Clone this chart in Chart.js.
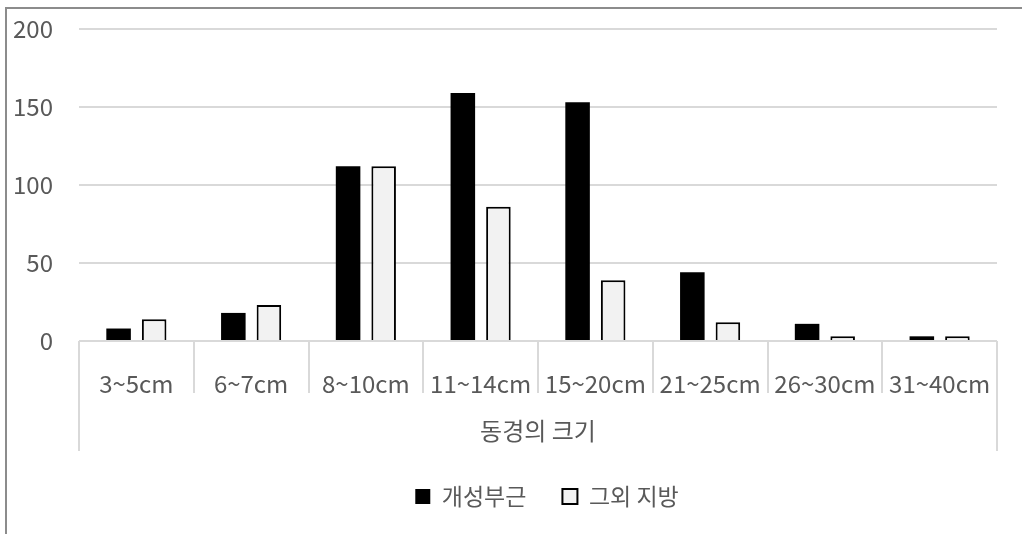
<!DOCTYPE html>
<html>
<head>
<meta charset="utf-8">
<script src="https://cdn.jsdelivr.net/npm/chart.js@4"></script>
<style>
    body { margin: 0; background: #fff; }
    #frame { position: absolute; left: 5px; top: 7px; width: 1030px; height: 540px;
             border-left: 2px solid #8c8c8c; border-top: 2px solid #8c8c8c; }
    #grafico { position: absolute; left: 0; top: 0; }
</style>
</head>
<body>
<div id="frame"></div>
<canvas id="grafico" width="1022" height="534"></canvas>
<script>
const categorias = ['3~5cm', '6~7cm', '8~10cm', '11~14cm', '15~20cm', '21~25cm', '26~30cm', '31~40cm'];
const gaeseong = [8, 18, 112, 159, 153, 44, 11, 3];
const outros = [14, 23, 112, 86, 39, 12, 3, 3];
const nomes = ['개성부근', '그외 지방'];
const tituloX = '동경의 크기';
const ticksY = [0, 50, 100, 150, 200];

const fonte = "'Noto Sans CJK KR', 'Noto Sans', sans-serif";
const cinza = '#595959';
const linha = '#d9d9d9';

// linhas verticais entre as categorias (eixo de dois niveis)
const separadores = {
    id: 'separadores',
    afterLayout(chart) {
        // legenda um pouco deslocada para a direita, como no original
        chart.legend.left += 83;
    },
    afterDraw(chart) {
        const x = chart.scales.x;
        const ctx = chart.ctx;
        const topo = chart.chartArea.bottom;
        const n = categorias.length;
        const passo = (x.right - x.left) / n;
        ctx.save();
        ctx.strokeStyle = linha;
        ctx.lineWidth = 2;
        for (let i = 0; i <= n; i++) {
            const px = Math.round(x.left + passo * i);
            const fim = (i === 0 || i === n) ? x.bottom + 2 : topo + 52;
            ctx.beginPath();
            ctx.moveTo(px, topo);
            ctx.lineTo(px, fim);
            ctx.stroke();
        }
        ctx.restore();
    }
};

const ctx = document.getElementById('grafico').getContext('2d');
const grafico = new Chart(ctx, {
    type: 'bar',
    data: {
        labels: categorias,
        datasets: [{
            label: nomes[0],
            data: gaeseong,
            backgroundColor: '#000000',
            borderColor: '#000000',
            borderWidth: 0,
        }, {
            label: nomes[1],
            data: outros,
            backgroundColor: '#f2f2f2',
            borderColor: '#000000',
            borderWidth: 2,
        }]
    },
    plugins: [separadores],
    options: {
        responsive: false,
        animation: false,
        categoryPercentage: 0.62,
        barPercentage: 0.69,
        layout: {
            padding: { left: 14, right: 25, top: 29, bottom: 16 }
        },
        scales: {
            x: {
                grid: { display: false, drawTicks: false },
                border: { display: false },
                ticks: {
                    color: cinza,
                    font: { family: fonte, size: 24 },
                    padding: 28,
                    maxRotation: 0,
                },
                title: {
                    display: true,
                    text: tituloX,
                    color: cinza,
                    font: { family: fonte, size: 24 },
                    padding: { top: 0, bottom: 4 },
                },
                afterFit: (scale) => {
                    scale.height = 108;
                    scale.paddingLeft = 0;
                    scale.paddingRight = 0;
                },
            },
            y: {
                min: 0,
                max: 200,
                afterBuildTicks: (scale) => {
                    scale.ticks = ticksY.map(v => ({ value: v }));
                },
                afterFit: (scale) => {
                    scale.width = 65;
                    scale.paddingTop = 0;
                    scale.paddingBottom = 0;
                },
                grid: { color: linha, lineWidth: 2, drawTicks: false },
                border: { display: false },
                ticks: {
                    color: cinza,
                    font: { family: fonte, size: 24 },
                    padding: 26,
                },
            },
        },
        plugins: {
            legend: {
                position: 'bottom',
                labels: {
                    color: cinza,
                    font: { family: fonte, size: 23 },
                    boxWidth: 15,
                    boxHeight: 15,
                    padding: 36,
                },
            },
            tooltip: { enabled: false },
        },
    },
});
</script>
</body>
</html>
